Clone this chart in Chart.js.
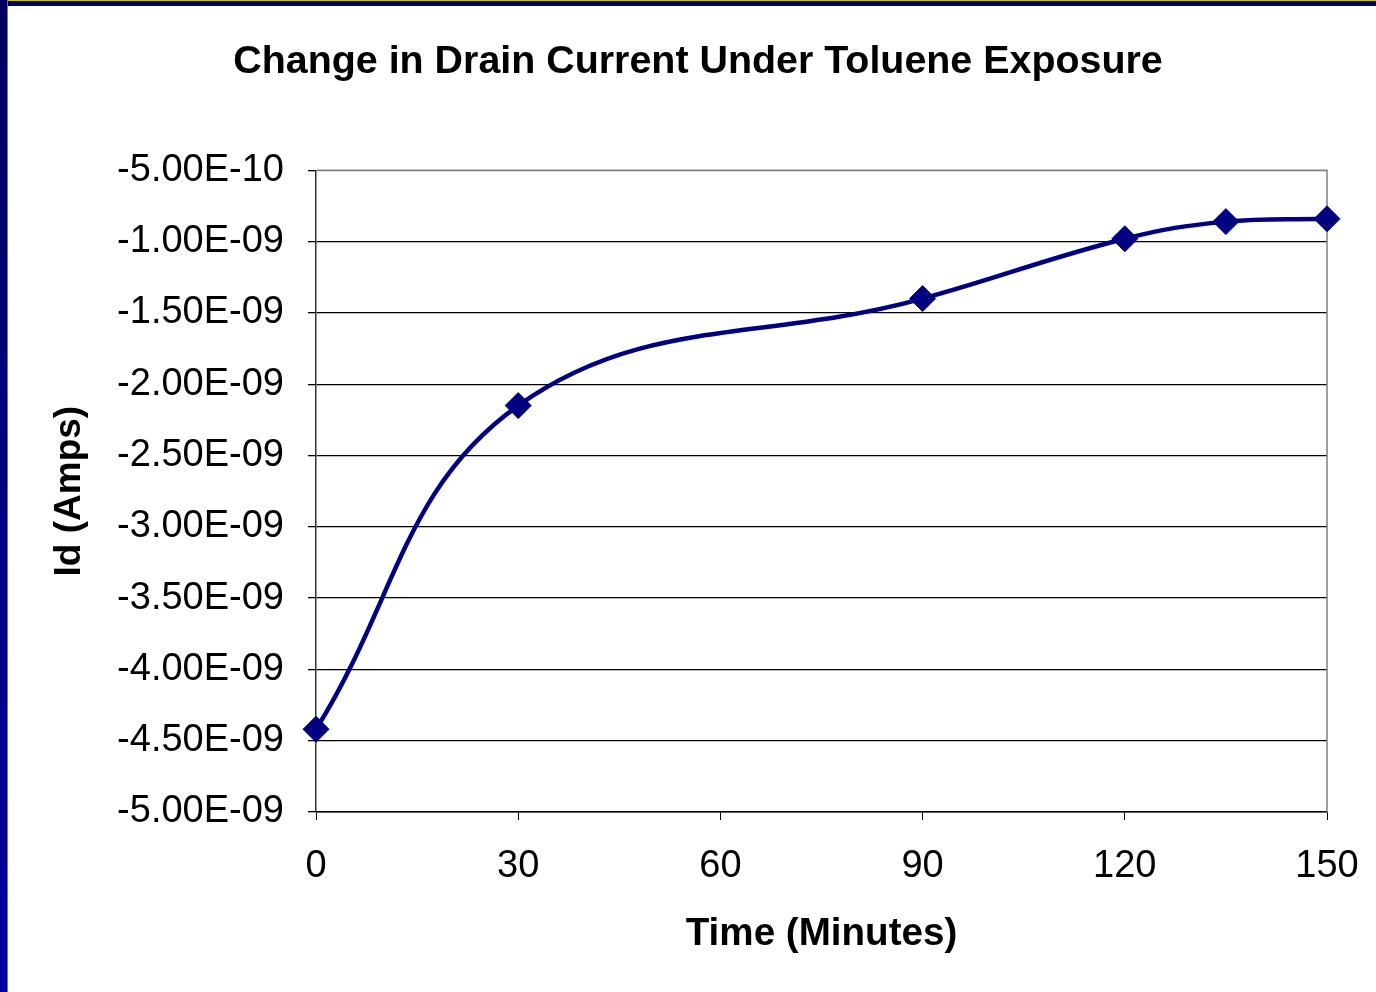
<!DOCTYPE html>
<html>
<head>
<meta charset="utf-8">
<title>Drain Current</title>
<script src="https://cdn.jsdelivr.net/npm/chart.js@4"></script>
<style>
  html, body { margin: 0; padding: 0; }
  body { width: 1376px; height: 992px; position: relative; overflow: hidden; background: #fff; }
  .topbar { position: absolute; left: 0; top: 0; width: 1376px; height: 6px; background: #000066; border-top: 1px solid #c8c000; box-sizing: border-box; }
  .sidebar { position: absolute; left: 0; top: 0; width: 7px; height: 992px; background: linear-gradient(#000060, #0000a0); border-right: 1px solid #777; }
  .wrap { position: absolute; left: 8px; top: 6px; width: 1368px; height: 986px; }
</style>
</head>
<body>
<div class="topbar"></div>
<div class="sidebar"></div>
<div class="wrap"><canvas id="chart"></canvas></div>
<script>
// measurement times (minutes) and drain current (A)
const times = [0, 30, 90, 120, 135, 150];
const current = [-4.42e-9, -2.15e-9, -1.40e-9, -0.98e-9, -0.86e-9, -0.84e-9];

const xTicks = [0, 30, 60, 90, 120, 150];
const yTicks = [-5e-9, -4.5e-9, -4e-9, -3.5e-9, -3e-9, -2.5e-9, -2e-9, -1.5e-9, -1e-9, -5e-10];

const navy = '#000080';
const fontFamily = '"Liberation Sans", Arial, sans-serif';

// Excel style scientific label, e.g. -1.00E-09
function sci(v) {
  const parts = v.toExponential(2).split('e');
  const n = parseInt(parts[1], 10);
  return parts[0] + 'E' + (n < 0 ? '-' : '+') + String(Math.abs(n)).padStart(2, '0');
}

// gray frame on the top/right of the plot area
const plotFrame = {
  id: 'plotFrame',
  beforeDatasetsDraw(chart) {
    const a = chart.chartArea;
    const ctx = chart.ctx;
    ctx.save();
    ctx.strokeStyle = '#808080';
    ctx.lineWidth = 1.5;
    ctx.beginPath();
    ctx.moveTo(a.left, a.top);
    ctx.lineTo(a.right, a.top);
    ctx.lineTo(a.right, a.bottom);
    ctx.stroke();
    ctx.restore();
  }
};

const data = times.map((t, i) => ({ x: t, y: current[i] }));

new Chart(document.getElementById('chart'), {
  type: 'line',
  data: {
    datasets: [{
      data: data,
      borderColor: navy,
      backgroundColor: navy,
      borderWidth: 4.5,
      tension: 0.4,
      pointStyle: 'rectRot',
      pointRadius: 13,
      pointBorderWidth: 1,
      pointBorderColor: navy,
      pointBackgroundColor: navy,
      clip: false
    }]
  },
  options: {
    responsive: true,
    maintainAspectRatio: false,
    animation: false,
    layout: { padding: { left: 61, right: 49, top: 0, bottom: 0 } },
    plugins: {
      legend: { display: false },
      tooltip: { enabled: false },
      title: {
        display: true,
        text: 'Change in Drain Current Under Toluene Exposure',
        color: '#000',
        font: { family: fontFamily, size: 39.4, weight: 'bold' },
        padding: { top: 33, bottom: 84 }
      }
    },
    scales: {
      x: {
        type: 'linear',
        min: 0,
        max: 150,
        afterBuildTicks: s => { s.ticks = xTicks.map(v => ({ value: v })); },
        afterFit: s => { s.height = 180; s.paddingLeft = 0; s.paddingRight = 0; },
        grid: { drawOnChartArea: false, color: '#000', tickLength: 8, tickColor: '#000' },
        border: { color: '#000', width: 1.5 },
        ticks: {
          color: '#000',
          padding: 24,
          maxRotation: 0,
          font: { family: fontFamily, size: 38 }
        },
        title: {
          display: true,
          text: 'Time (Minutes)',
          color: '#000',
          font: { family: fontFamily, size: 38.6, weight: 'bold' },
          padding: { top: 0, bottom: 34 }
        }
      },
      y: {
        min: -5e-9,
        max: -5e-10,
        afterBuildTicks: s => { s.ticks = yTicks.map(v => ({ value: v })); },
        afterFit: s => { s.width = 247; s.paddingTop = 0; s.paddingBottom = 0; },
        grid: {
          color: ctx => (ctx.tick && ctx.tick.value === -5e-10) ? '#808080' : '#000',
          lineWidth: 1.3,
          tickLength: 8,
          tickColor: '#000'
        },
        border: { color: '#333', width: 1.5 },
        ticks: {
          color: '#000',
          padding: 24,
          callback: v => sci(v),
          font: { family: fontFamily, size: 38 }
        },
        title: {
          display: true,
          text: 'Id (Amps)',
          color: '#000',
          font: { family: fontFamily, size: 37, weight: 'bold' },
          padding: { top: -21, bottom: 0 }
        }
      }
    }
  },
  plugins: [plotFrame]
});
</script>
</body>
</html>
